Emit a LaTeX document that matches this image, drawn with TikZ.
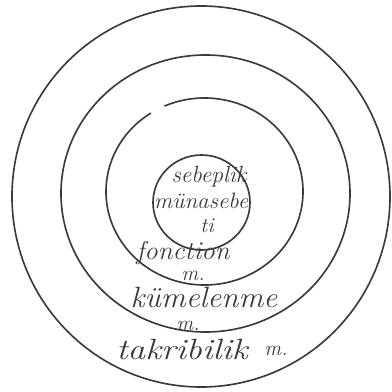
\documentclass[tikz,border=0pt]{standalone}
\usepackage{graphicx}
\usepackage{tikz}
\usetikzlibrary{positioning,shapes.geometric}
\definecolor{pencil}{HTML}{3A3A3A}
\tikzset{ring/.style={draw=pencil,line width=1.4pt,ellipse,inner sep=0pt},
  hand/.style={font=\itshape\fontsize{20}{22}\selectfont,text=pencil,inner sep=0pt},
  smallm/.style={hand,font=\itshape\fontsize{18}{20}\selectfont},
  bigword/.style={hand,font=\itshape\fontsize{25}{27}\selectfont}}
\newcommand{\wide}[2]{\scalebox{#1}[1]{#2}}

\begin{document}
\begin{tikzpicture}[x=0.03cm,y=-0.03cm]
\useasboundingbox (0,0) rectangle (391,392);
\node[ring,minimum width=11.34cm,minimum height=11.43cm] (outer) at (201,196.5) {};
\node[ring,minimum width=8.67cm,minimum height=8.31cm] (middle) at (205.5,193.5) {};
% inner ring, left open near the top
\coordinate (ic) at (204.5,191.5);
\draw[draw=pencil,line width=1.4pt] (ic) ++(123:2.955cm and 2.805cm)
  arc[start angle=123,end angle=474,x radius=2.955cm,y radius=2.805cm];
\node[ring,minimum width=2.91cm,minimum height=2.85cm] (core) at (201.5,202.5) {};
\node[hand] (sebep) at (209,177) {sebeplik};
\node[hand,font=\itshape\fontsize{19}{21}\selectfont] (munase) at (201,201) {\wide{1.04}{münasebe}};
\node[smallm] (ti) at (207,226) {ti};
\node[hand,font=\itshape\fontsize{22}{24}\selectfont] (fonc) at (183,253) {\wide{1.04}{fonction}};
\node[smallm] (fm) at (193,276) {m.};
\node[bigword] (kume) at (204,297) {\wide{1.06}{kümelenme}};
\node[smallm] (km) at (188,326) {m.};
\node[bigword] (takri) at (182,349) {\wide{1.2}{takribilik}};
\node[smallm] (tm) at (276,351) {m.};
\end{tikzpicture}
\end{document}
